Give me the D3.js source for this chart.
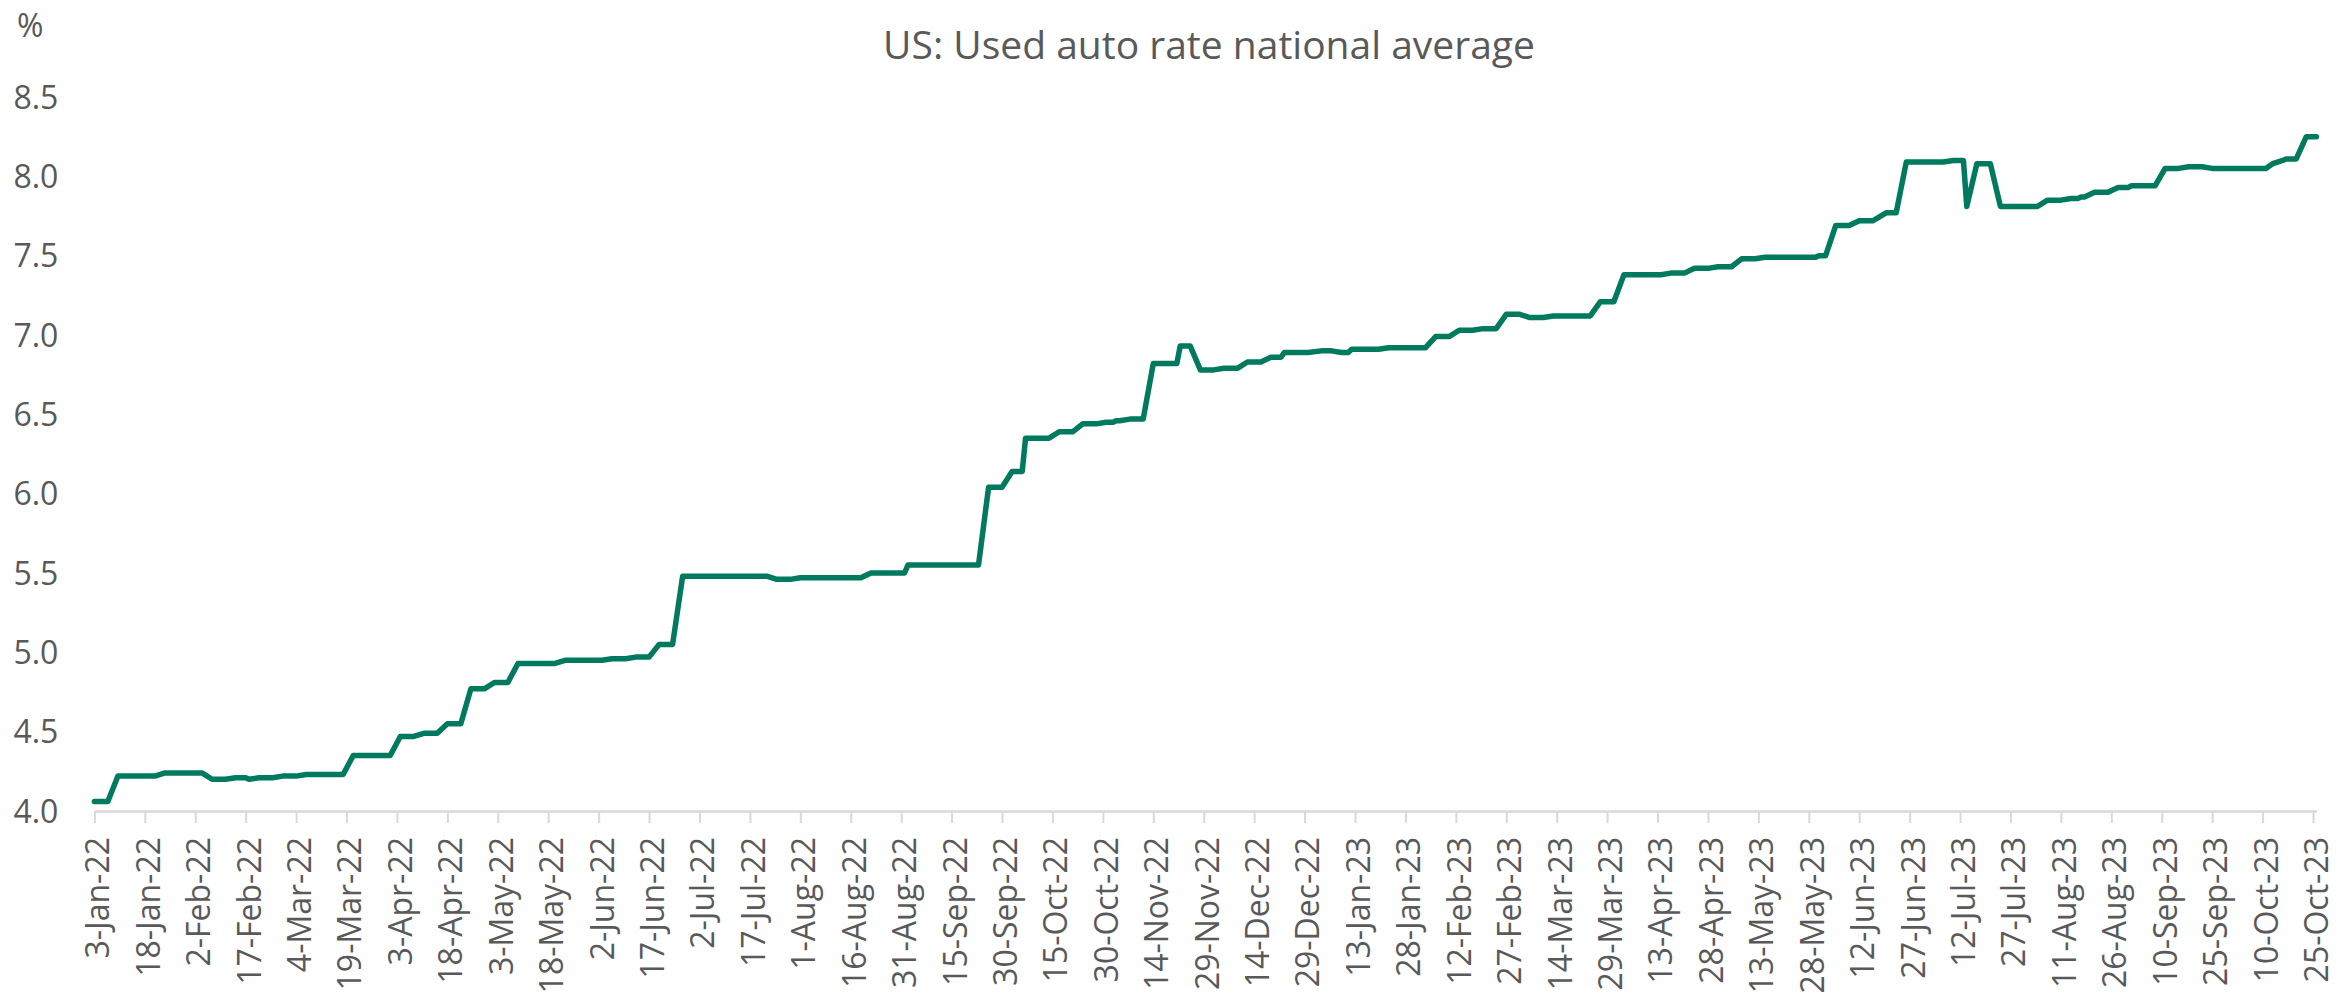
<!DOCTYPE html>
<html>
<head>
<meta charset="utf-8">
<script src="https://cdn.jsdelivr.net/npm/d3@7"></script>
<style>
  body { margin: 0; background: #fff; }
  text { font-family: "Open Sans", sans-serif; fill: #595959; }
</style>
</head>
<body>
<div id="chart"></div>
<script>
// each run = a stretch of business days at one rate (start date, end date, %)
var runStart = ["2022-01-03","2022-01-10","2022-01-24","2022-02-07","2022-02-14","2022-02-18","2022-02-21","2022-02-28",
  "2022-03-07","2022-03-21","2022-04-04","2022-04-11","2022-04-18","2022-04-25","2022-05-02","2022-05-09","2022-05-23",
  "2022-06-06","2022-06-13","2022-06-20","2022-06-27","2022-07-25","2022-08-01","2022-08-22","2022-09-02","2022-09-26",
  "2022-10-03","2022-10-07","2022-10-17","2022-10-24","2022-10-31","2022-11-03","2022-11-07","2022-11-14","2022-11-22",
  "2022-11-28","2022-12-05","2022-12-12","2022-12-19","2022-12-23",
  "2023-01-03","2023-01-09","2023-01-12","2023-01-23","2023-02-06","2023-02-13","2023-02-20","2023-02-27","2023-03-06",
  "2023-03-13","2023-03-27","2023-04-03","2023-04-17","2023-04-24","2023-05-01","2023-05-08","2023-05-15","2023-05-31",
  "2023-06-05","2023-06-12","2023-06-20","2023-06-26","2023-07-10","2023-07-14","2023-07-17","2023-07-24","2023-08-07",
  "2023-08-14","2023-08-17","2023-08-21","2023-08-28","2023-09-01","2023-09-11","2023-09-18","2023-09-25","2023-10-12",
  "2023-10-13","2023-10-16","2023-10-17","2023-10-23"];
var runEnd = ["2022-01-07","2022-01-21","2022-02-04","2022-02-11","2022-02-17","2022-02-18","2022-02-25","2022-03-04",
  "2022-03-18","2022-04-01","2022-04-08","2022-04-15","2022-04-22","2022-04-29","2022-05-06","2022-05-20","2022-06-03",
  "2022-06-10","2022-06-17","2022-06-24","2022-07-22","2022-07-29","2022-08-19","2022-09-01","2022-09-23","2022-09-30",
  "2022-10-06","2022-10-14","2022-10-21","2022-10-28","2022-11-02","2022-11-04","2022-11-11","2022-11-21","2022-11-25",
  "2022-12-02","2022-12-09","2022-12-16","2022-12-22","2022-12-30",
  "2023-01-06","2023-01-11","2023-01-20","2023-02-03","2023-02-10","2023-02-17","2023-02-24","2023-03-03","2023-03-10",
  "2023-03-24","2023-03-31","2023-04-14","2023-04-21","2023-04-28","2023-05-05","2023-05-12","2023-05-30","2023-06-02",
  "2023-06-09","2023-06-16","2023-06-23","2023-07-07","2023-07-13","2023-07-14","2023-07-21","2023-08-04","2023-08-11",
  "2023-08-16","2023-08-18","2023-08-25","2023-08-31","2023-09-08","2023-09-15","2023-09-22","2023-10-11","2023-10-12",
  "2023-10-13","2023-10-16","2023-10-20","2023-10-26"];
var runRate = [4.06,4.22,4.24,4.20,4.21,4.20,4.21,4.22,
  4.23,4.35,4.47,4.49,4.55,4.77,4.81,4.93,4.95,
  4.96,4.97,5.05,5.48,5.46,5.47,5.50,5.55,6.04,
  6.14,6.35,6.39,6.44,6.45,6.46,6.47,6.82,6.93,
  6.78,6.79,6.83,6.86,6.89,
  6.90,6.89,6.91,6.92,6.99,7.03,7.04,7.13,7.11,
  7.12,7.21,7.38,7.39,7.42,7.43,7.48,7.49,7.50,
  7.69,7.72,7.77,8.09,8.10,7.81,8.08,7.81,7.85,
  7.86,7.87,7.90,7.93,7.94,8.05,8.06,8.05,8.065,
  8.08,8.10,8.11,8.25];

var tickLabels = ["3-Jan-22","18-Jan-22","2-Feb-22","17-Feb-22","4-Mar-22","19-Mar-22","3-Apr-22","18-Apr-22",
  "3-May-22","18-May-22","2-Jun-22","17-Jun-22","2-Jul-22","17-Jul-22","1-Aug-22","16-Aug-22","31-Aug-22",
  "15-Sep-22","30-Sep-22","15-Oct-22","30-Oct-22","14-Nov-22","29-Nov-22","14-Dec-22","29-Dec-22","13-Jan-23",
  "28-Jan-23","12-Feb-23","27-Feb-23","14-Mar-23","29-Mar-23","13-Apr-23","28-Apr-23","13-May-23","28-May-23",
  "12-Jun-23","27-Jun-23","12-Jul-23","27-Jul-23","11-Aug-23","26-Aug-23","10-Sep-23","25-Sep-23","10-Oct-23",
  "25-Oct-23"];
var yTicks = [4.0, 4.5, 5.0, 5.5, 6.0, 6.5, 7.0, 7.5, 8.0, 8.5];

var margin = {top: 97, right: 19.6, bottom: 192, left: 94.4},
    width = 2336 - margin.left - margin.right,
    height = 1003 - margin.top - margin.bottom;

var parseDate = d3.utcParse("%Y-%m-%d"),
    parseTick = d3.utcParse("%d-%b-%y");

var points = [];
runRate.forEach(function(r, i) {
  points.push({date: parseDate(runStart[i]), rate: r});
  if (runEnd[i] !== runStart[i]) points.push({date: parseDate(runEnd[i]), rate: r});
});

var x = d3.scaleUtc()
    .domain([parseDate("2022-01-03"), parseDate("2023-10-26")])
    .range([0, width]);
var y = d3.scaleLinear().domain([4, 8.5]).range([height, 0]);

var svg = d3.select("#chart").append("svg")
    .attr("width", 2336)
    .attr("height", 1003);

svg.append("text")
    .attr("x", 1209)
    .attr("y", 59)
    .attr("text-anchor", "middle")
    .style("font-size", "39px")
    .text("US: Used auto rate national average");

svg.append("text")
    .attr("x", 17)
    .attr("y", 37)
    .style("font-size", "32px")
    .text("%");

var g = svg.append("g")
    .attr("transform", "translate(" + margin.left + "," + margin.top + ")");

// y labels only, no axis line
g.selectAll(".ylab")
    .data(yTicks)
  .enter().append("text")
    .attr("class", "ylab")
    .attr("x", -36)
    .attr("y", function(d) { return y(d); })
    .attr("dy", "0.36em")
    .attr("text-anchor", "end")
    .style("font-size", "32px")
    .text(d3.format(".1f"));

var xAxis = g.append("g")
    .attr("transform", "translate(0," + height + ")")
    .call(d3.axisBottom(x)
      .tickValues(tickLabels.map(parseTick))
      .tickFormat(d3.utcFormat("%-d-%b-%y"))
      .tickSize(12)
      .tickSizeOuter(0));

xAxis.select(".domain").attr("stroke", "#d9d9d9").attr("stroke-width", 2.5);
xAxis.selectAll(".tick line").attr("stroke", "#d9d9d9").attr("stroke-width", 2);
xAxis.selectAll(".tick text")
    .attr("transform", "translate(0,26) rotate(-90)")
    .attr("x", 0)
    .attr("y", 0)
    .attr("dy", "0.45em")
    .attr("text-anchor", "end")
    .style("font-size", "32px")
    .style("font-family", "Open Sans, sans-serif")
    .attr("fill", "#595959");

var valueline = d3.line()
    .x(function(d) { return x(d.date); })
    .y(function(d) { return y(d.rate); });

g.append("path")
    .datum(points)
    .attr("fill", "none")
    .attr("stroke", "#007a5e")
    .attr("stroke-width", 5.5)
    .attr("stroke-linejoin", "round")
    .attr("stroke-linecap", "round")
    .attr("d", valueline);
</script>
</body>
</html>
